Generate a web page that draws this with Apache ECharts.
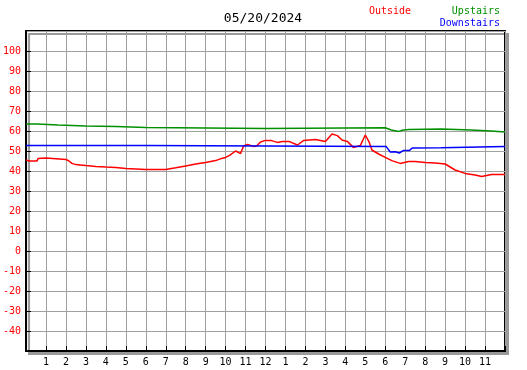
<!DOCTYPE html>
<html>
<head>
<meta charset="utf-8">
<script src="https://cdn.jsdelivr.net/npm/echarts@6/dist/echarts.min.js"></script>
<style>
  html, body { margin: 0; padding: 0; background: #fff; }
  #chart { width: 527px; height: 370px; }
</style>
</head>
<body>
<div id="chart"></div>
<script>
// 时间（小时）和温度，从图上读出来的
const outsideHours = [0, 0.15, 0.55, 0.6, 1, 1.1, 2, 2.15, 2.3, 2.5, 2.7, 3, 3.5, 4, 4.5, 5, 5.5, 6, 6.5, 7, 7.5, 8, 8.5, 9, 9.5, 9.8, 10, 10.2, 10.5, 10.75, 10.9, 11.1, 11.4, 11.55, 11.75, 12, 12.3, 12.6, 12.85, 13.17, 13.6, 13.9, 14.2, 14.5, 15, 15.33, 15.6, 15.83, 16.1, 16.4, 16.75, 17, 17.2, 17.33, 17.67, 18, 18.33, 18.75, 19.17, 19.5, 20, 20.5, 21, 21.5, 22, 22.5, 22.83, 23.33, 24]
const outsideTemps = [45.5, 45, 45, 46.2, 46.5, 45.8, 45.8, 45, 43.8, 43.2, 43, 42.7, 42.3, 42, 41.8, 41.3, 41, 40.7, 40.7, 40.8, 41.6, 42.5, 43.5, 44.3, 45.2, 46.3, 46.8, 47.8, 50, 48.7, 52.5, 53.3, 52.3, 52.5, 54.5, 55.3, 55.2, 54.3, 54.7, 54.8, 53, 55.2, 55.5, 55.8, 54.8, 58.5, 57.7, 55.5, 54.8, 51.8, 52.7, 58, 54.3, 50.5, 48.5, 46.8, 45.2, 43.8, 44.8, 44.7, 44.2, 44, 43.5, 40.5, 38.8, 38, 37.2, 38.2, 38.3]

const upstairsHours = [0, 0.55, 0.6, 1.6, 1.65, 3, 3.05, 4.5, 4.55, 6, 6.05, 12, 12.05, 18, 18.3, 18.67, 18.9, 19.2, 19.3, 20.8, 20.85, 22.3, 22.35, 23.3, 23.35, 24]
const upstairsTemps = [63.5, 63.5, 63, 63, 62.5, 62.5, 62.2, 62.2, 61.7, 61.7, 61.2, 61.2, 61.6, 61.6, 60.5, 59.8, 60.5, 60.8, 61, 61, 60.5, 60.5, 60, 60, 59.5, 59.5]

const downstairsHours = [0, 5.95, 6, 18.05, 18.25, 18.5, 18.7, 18.9, 19.2, 19.35, 20.8, 20.9, 24]
const downstairsTemps = [52.7, 52.7, 52.2, 52.2, 49.5, 49.6, 49, 50.2, 50.2, 51.5, 51.6, 52.2, 52.2]

const hourTicks = ['', 1, 2, 3, 4, 5, 6, 7, 8, 9, 10, 11, 12, 1, 2, 3, 4, 5, 6, 7, 8, 9, 10, 11, '']

const pair = (xs, ys) => xs.map((x, i) => [x, ys[i]])

const chart = echarts.init(document.getElementById('chart'), null, { renderer: 'canvas' })
const mono = 'DejaVu Sans Mono'

const lineSeries = (name, color, data) => ({
  name: name,
  type: 'line',
  data: data,
  symbol: 'none',
  animation: false,
  lineStyle: { color: color, width: 1.5 },
  itemStyle: { color: color }
})

const legendOne = (name, color, pos) => Object.assign({
  data: [name],
  icon: 'none',
  itemWidth: 0,
  itemHeight: 10,
  padding: 0,
  selectedMode: false,
  textStyle: { color: color, fontFamily: mono, fontSize: 10 }
}, pos)

chart.setOption({
  backgroundColor: '#fff',
  animation: false,
  title: {
    text: '05/20/2024',
    left: 263,
    top: 12,
    textAlign: 'center',
    padding: 0,
    textStyle: { color: '#000', fontFamily: mono, fontSize: 13, fontWeight: 'normal' }
  },
  legend: [
    legendOne('Outside', '#ff0000', { left: 364, top: 6 }),
    legendOne('Upstairs', '#009000', { right: 27, top: 6 }),
    legendOne('Downstairs', '#0000ff', { right: 27, top: 18 })
  ],
  grid: {
    left: 25,
    top: 31,
    width: 480,
    height: 320,
    show: true,
    backgroundColor: '#fff',
    borderColor: '#000',
    borderWidth: 2,
    shadowColor: '#999',
    shadowBlur: 0,
    shadowOffsetX: 3,
    shadowOffsetY: 3
  },
  xAxis: {
    type: 'value',
    min: 0,
    max: 24,
    interval: 1,
    axisLine: { show: true, onZero: false, lineStyle: { color: '#000', width: 2 } },
    axisTick: { show: true, inside: true, length: 5, lineStyle: { color: '#000' } },
    splitLine: { show: true, lineStyle: { color: '#a0a0a0', width: 1 } },
    axisLabel: {
      margin: 6,
      color: '#000',
      fontFamily: mono,
      fontSize: 10,
      formatter: v => String(hourTicks[v])
    }
  },
  yAxis: {
    type: 'value',
    min: -50,
    max: 110,
    interval: 10,
    axisLine: { show: true, onZero: false, lineStyle: { color: '#000', width: 2 } },
    axisTick: { show: true, inside: true, length: 5, lineStyle: { color: '#000' } },
    splitLine: { show: true, lineStyle: { color: '#a0a0a0', width: 1 } },
    axisLabel: {
      margin: 5,
      color: '#ff0000',
      fontFamily: mono,
      fontSize: 10,
      showMinLabel: false,
      showMaxLabel: false
    }
  },
  series: [
    lineSeries('Outside', '#ff0000', pair(outsideHours, outsideTemps)),
    lineSeries('Upstairs', '#009000', pair(upstairsHours, upstairsTemps)),
    lineSeries('Downstairs', '#0000ff', pair(downstairsHours, downstairsTemps))
  ]
})
</script>
</body>
</html>
